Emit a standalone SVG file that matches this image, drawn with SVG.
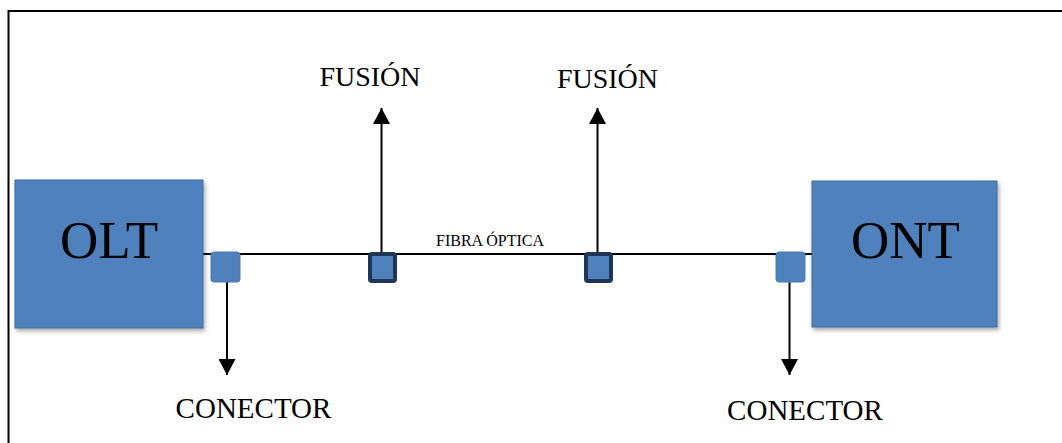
<svg xmlns="http://www.w3.org/2000/svg" width="1062" height="443" viewBox="0 0 1062 443">
  <defs>
    <filter id="shadow" x="-10%" y="-10%" width="125%" height="125%">
      <feDropShadow dx="1.5" dy="2.5" stdDeviation="2" flood-color="#000" flood-opacity="0.35"/>
    </filter>
    <marker id="arrow" viewBox="0 0 16 17" refX="16" refY="8.5" markerWidth="16" markerHeight="17" markerUnits="userSpaceOnUse" orient="auto">
      <path d="M0,0 L16,8.5 L0,17 Z" fill="#000"/>
    </marker>
  </defs>
  <style>
    .frame { fill: none; stroke: #000; stroke-width: 2; }
    .box { fill: #4F81BD; stroke: #3F6A9C; stroke-width: 1; filter: url(#shadow); }
    .conn { fill: #4F81BD; stroke: #4A7AB3; stroke-width: 1; }
    .fusion { fill: #4F81BD; stroke: #1F3756; stroke-width: 4; }
    .line { fill: none; stroke: #000; stroke-width: 2; }
    .arrow { fill: none; stroke: #000; stroke-width: 2; marker-end: url(#arrow); }
    .big { font-family: "Liberation Serif", "Times New Roman", serif; font-size: 53px; fill: #000; text-anchor: middle; }
    .label { font-family: "Liberation Serif", "Times New Roman", serif; font-size: 28px; fill: #000; text-anchor: middle; }
    .conlabel { font-family: "Liberation Serif", "Times New Roman", serif; font-size: 29px; fill: #000; text-anchor: middle; }
    .small { font-family: "Liberation Serif", "Times New Roman", serif; font-size: 16px; fill: #000; text-anchor: middle; }
  </style>

  <rect width="1062" height="443" fill="#fff"/>
  <path class="frame" d="M8.5,443 V11 H1062"/>

  <!-- fibre line and arrows -->
  <g id="connectors">
    <line class="line" x1="203" y1="254" x2="812" y2="254"/>
    <line class="arrow" x1="227" y1="282" x2="227" y2="375"/>
    <line class="arrow" x1="789.5" y1="282" x2="789.5" y2="375"/>
    <line class="arrow" x1="381.5" y1="252" x2="381.5" y2="108"/>
    <line class="arrow" x1="597.5" y1="252" x2="597.5" y2="108"/>
  </g>

  <g id="olt">
    <rect class="box" x="15" y="180" width="188" height="148"/>
    <text class="big" x="109" y="258">OLT</text>
  </g>

  <g id="ont">
    <rect class="box" x="812" y="181" width="185" height="146"/>
    <text class="big" x="905.5" y="258">ONT</text>
  </g>

  <g id="conector-olt">
    <rect class="conn" x="211" y="252" width="29" height="30" rx="3"/>
  </g>
  <g id="conector-ont">
    <rect class="conn" x="776" y="252" width="29" height="30" rx="3"/>
  </g>

  <g id="fusion-1">
    <rect class="fusion" x="370" y="254" width="25" height="27" rx="2"/>
  </g>
  <g id="fusion-2">
    <rect class="fusion" x="586" y="254" width="25" height="27" rx="2"/>
  </g>

  <g id="labels">
    <text class="small" x="490" y="246">FIBRA ÓPTICA</text>
    <text class="label" x="370" y="86">FUSIÓN</text>
    <text class="label" x="607.5" y="88">FUSIÓN</text>
    <text class="conlabel" x="253.5" y="418">CONECTOR</text>
    <text class="conlabel" x="805" y="420">CONECTOR</text>
  </g>
</svg>
